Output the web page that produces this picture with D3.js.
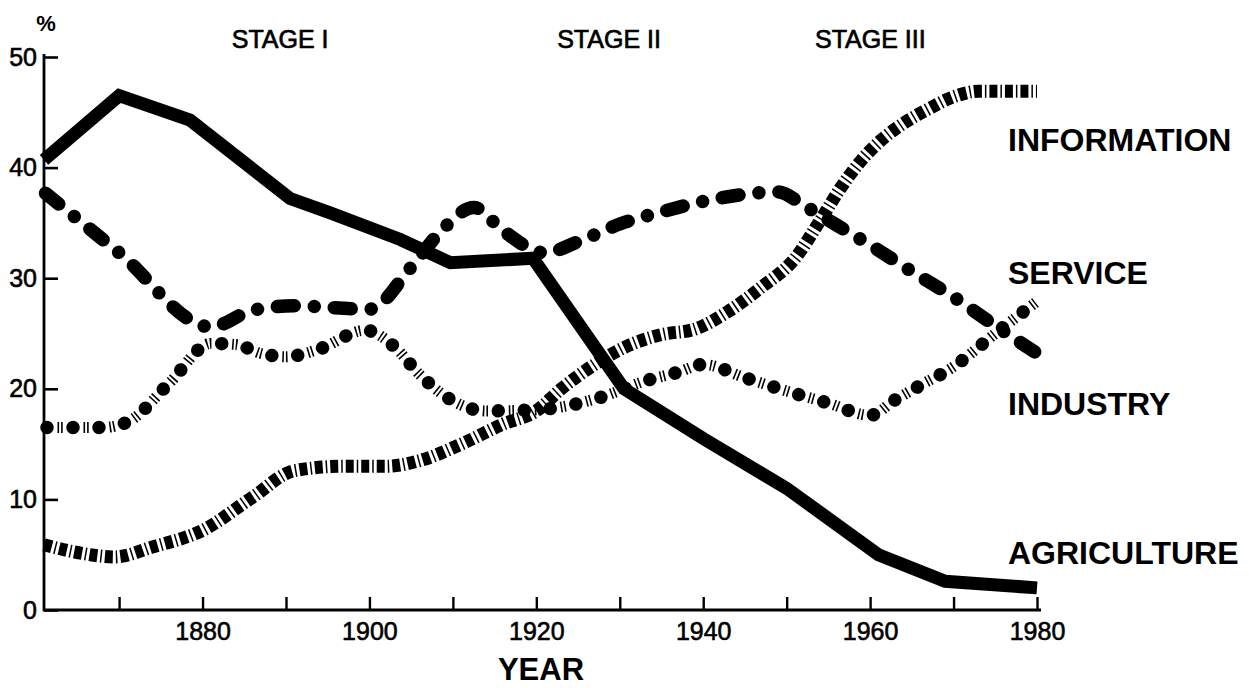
<!DOCTYPE html>
<html>
<head>
<meta charset="utf-8">
<script src="https://cdn.jsdelivr.net/npm/d3@7"></script>
<style>
  html, body { margin: 0; padding: 0; background: #fff; }
  svg { display: block; }
  text { font-family: "Liberation Sans", Arial, Helvetica, sans-serif; fill: #000; }
</style>
</head>
<body>
<svg id="chart" width="1249" height="688"></svg>
<script>
// ---------- data ----------
const agricultureYears  = [1861, 1870, 1878.5, 1890.5, 1895.3, 1903.7, 1909.7, 1919.6, 1930.5, 1940, 1950, 1961, 1969, 1980];
const agricultureValues = [40.7, 46.5, 44.3, 37.2, 35.9, 33.5, 31.4, 31.8, 20.0, 15.5, 11.0, 5.0, 2.6, 2.0];

const industryYears  = [1861, 1870, 1881, 1886, 1891, 1900, 1905, 1909, 1912.5, 1916, 1921, 1925, 1930, 1935, 1941, 1949, 1952, 1956, 1960, 1965, 1970, 1975, 1980];
const industryValues = [37.8, 32.3, 25.6, 27.1, 27.5, 27.2, 31.0, 34.6, 36.4, 34.3, 32.3, 33.3, 34.9, 36.0, 37.1, 37.8, 36.6, 34.8, 33.0, 30.6, 28.3, 25.7, 23.2];

const serviceYears  = [1861, 1868, 1871, 1876, 1881, 1884, 1887, 1890, 1894, 1899.5, 1903, 1906, 1910, 1914, 1920, 1924, 1928, 1933, 1937, 1940, 1945, 1950, 1955, 1960, 1963, 1966, 1970, 1975, 1980];
const serviceValues = [16.5, 16.5, 17.0, 20.5, 24.1, 24.0, 23.2, 22.9, 23.6, 25.3, 23.8, 21.3, 18.9, 18.0, 18.1, 18.5, 19.3, 20.7, 21.5, 22.2, 21.0, 19.8, 18.7, 17.6, 19.0, 20.3, 22.0, 25.0, 27.9];

const informationYears  = [1861, 1865, 1869.5, 1874, 1880, 1886, 1891, 1897, 1902, 1906, 1911, 1916, 1920, 1923, 1927, 1931, 1935, 1939, 1943, 1947, 1951, 1954, 1956.5, 1959, 1961.5, 1964, 1967, 1970, 1973, 1980];
const informationValues = [5.9, 5.2, 4.8, 5.7, 7.2, 10.2, 12.6, 13.0, 13.0, 13.5, 15.0, 16.8, 18.0, 20.0, 22.2, 23.9, 24.9, 25.4, 27.0, 29.2, 31.8, 35.2, 38.2, 40.7, 42.6, 44.0, 45.3, 46.4, 46.9, 46.9];

const seriesLabels = ["INFORMATION", "SERVICE", "INDUSTRY", "AGRICULTURE"];
const labelValues  = [42.7, 30.65, 18.8, 5.3];   // vertical placement of right-hand labels (in %)
const stageLabels  = ["STAGE I", "STAGE II", "STAGE III"];
const stageYears   = [1883.5, 1922.5, 1953.4];
const yTicks = [0, 10, 20, 30, 40, 50];
const xTicks = [1870, 1880, 1890, 1900, 1910, 1920, 1930, 1940, 1950, 1960, 1970, 1980];
const xLabelTicks = [1880, 1900, 1920, 1940, 1960, 1980];

// ---------- scales ----------
const svg = d3.select("#chart");
const x = d3.scaleLinear().domain([1861, 1980]).range([44, 1037]);
const y = d3.scaleLinear().domain([0, 50]).range([610, 57]);

const zip = (xs, vs) => xs.map((d, i) => [d, vs[i]]);

// ---------- axes ----------
const yAxis = d3.axisLeft(y).tickValues(yTicks).tickSize(-14).tickPadding(7).tickSizeOuter(0)
  .tickFormat(d => d === 0 ? "0" : d);
const gy = svg.append("g").attr("transform", `translate(${x(1861)},0)`).call(yAxis);
gy.select(".domain").remove();
gy.selectAll(".tick line").attr("stroke", "#000").attr("stroke-width", 2.6);
gy.selectAll(".tick text").attr("font-size", 25).attr("fill", "#000")
  .attr("stroke", "#000").attr("stroke-width", 0.6)
  .attr("font-family", "Liberation Sans, Arial, sans-serif");

const xAxis = d3.axisBottom(x).tickValues(xTicks).tickSize(-13).tickPadding(12).tickSizeOuter(0)
  .tickFormat(d => xLabelTicks.includes(d) ? d : "");
const gx = svg.append("g").attr("transform", `translate(0,${y(0)})`).call(xAxis);
gx.select(".domain").remove();
gx.selectAll(".tick line").attr("stroke", "#000").attr("stroke-width", 2.4);
gx.selectAll(".tick text").attr("font-size", 25).attr("fill", "#000")
  .attr("stroke", "#000").attr("stroke-width", 0.6)
  .attr("font-family", "Liberation Sans, Arial, sans-serif");

// axis lines
svg.append("line").attr("x1", x(1861)).attr("x2", x(1861)).attr("y1", y(0) + 1).attr("y2", y(50) - 3)
  .attr("stroke", "#000").attr("stroke-width", 2.8);
svg.append("line").attr("x1", x(1861) - 1).attr("x2", x(1980) + 4).attr("y1", y(0)).attr("y2", y(0))
  .attr("stroke", "#000").attr("stroke-width", 2.8);

// ---------- lines ----------
const smooth = d3.line().x(d => x(d[0])).y(d => y(d[1])).curve(d3.curveMonotoneX);
const straight = d3.line().x(d => x(d[0])).y(d => y(d[1])).curve(d3.curveLinear);

const gLines = svg.append("g").attr("fill", "none").attr("stroke", "#000");

// information: blocks separated by thin hatch lines
gLines.append("path").attr("d", smooth(zip(informationYears, informationValues)))
  .attr("stroke-width", 13).attr("stroke-dasharray", "8 3 1.5 3").attr("stroke-linecap", "butt");

// service: round dots with double hatch lines
const serviceD = smooth(zip(serviceYears, serviceValues));
gLines.append("path").attr("d", serviceD)
  .attr("stroke-width", 13.5).attr("stroke-linecap", "round").attr("stroke-dasharray", "0.01 25.99").attr("stroke-dashoffset", -3);
gLines.append("path").attr("d", serviceD)
  .attr("stroke-width", 11).attr("stroke-linecap", "butt").attr("stroke-dasharray", "1.6 2 1.6 20.8").attr("stroke-dashoffset", -13.5);

// industry: dash-dot with round caps
gLines.append("path").attr("d", smooth(zip(industryYears, industryValues)))
  .attr("stroke-width", 13.5).attr("stroke-linecap", "round").attr("stroke-dasharray", "17 20 0.01 20")
  .attr("stroke-dashoffset", -2);

// agriculture: heavy solid
gLines.append("path").attr("d", straight(zip(agricultureYears, agricultureValues)))
  .attr("stroke-width", 13).attr("stroke-linejoin", "miter").attr("stroke-linecap", "butt");

// ---------- text ----------
svg.append("text").attr("x", 46).attr("y", 31).attr("text-anchor", "middle")
  .attr("font-size", 22).attr("font-weight", "bold").text("%");

svg.selectAll(".stage").data(stageLabels).enter().append("text")
  .attr("class", "stage")
  .attr("x", (d, i) => x(stageYears[i])).attr("y", 48).attr("text-anchor", "start")
  .attr("font-size", 25).attr("stroke", "#000").attr("stroke-width", 0.7)
  .text(d => d);

svg.selectAll(".slabel").data(seriesLabels).enter().append("text")
  .attr("class", "slabel")
  .attr("x", 1008).attr("y", (d, i) => y(labelValues[i]) + 13)
  .attr("font-size", 32).attr("font-weight", "bold")
  .text(d => d);

svg.append("text").attr("x", 541).attr("y", 680).attr("text-anchor", "middle")
  .attr("font-size", 31).attr("font-weight", "bold").text("YEAR");
</script>
</body>
</html>
